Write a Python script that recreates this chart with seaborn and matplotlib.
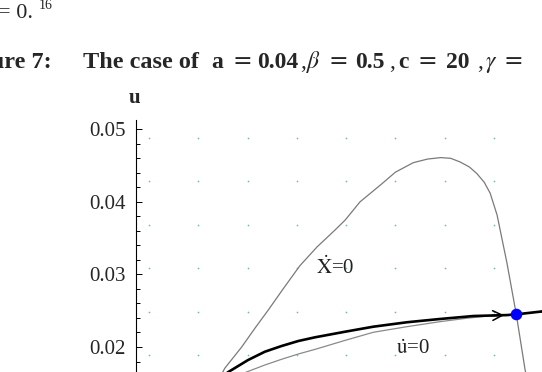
import numpy as np
import pandas as pd
import matplotlib
matplotlib.use("Agg")
import matplotlib.pyplot as plt
import seaborn as sns

# --- data (x in arbitrary X units, u values) ---
xdot_x = [2.45, 2.54, 2.88, 3.15, 3.42, 3.72, 4.06, 4.41, 4.77, 4.98, 5.28, 5.69,
          6.00, 6.36, 6.65, 6.92, 7.12, 7.31, 7.50, 7.65, 7.80, 7.92, 8.06, 8.26,
          8.45, 8.63, 8.68]
xdot_u = [0.0160, 0.0171, 0.0200, 0.0226, 0.0251, 0.0280, 0.0312, 0.0338, 0.0361,
          0.0375, 0.0400, 0.0423, 0.0441, 0.0454, 0.0459, 0.0461, 0.0460, 0.0455,
          0.0448, 0.0439, 0.0427, 0.0412, 0.0382, 0.0316, 0.0245, 0.0168, 0.0155]

udot_x = [2.80, 2.98, 3.35, 3.69, 4.03, 4.37, 4.97, 5.55, 6.23, 6.90, 7.44, 7.92,
          8.45, 8.97, 9.60]
udot_u = [0.0160, 0.01656, 0.01752, 0.01831, 0.01904, 0.01968, 0.0209, 0.02203,
          0.02280, 0.02349, 0.02396, 0.02430, 0.0245, 0.0249, 0.0253]

saddle_x = [2.50, 2.61, 3.01, 3.35, 3.69, 4.03, 4.37, 4.98, 5.55, 6.23, 6.90, 7.58,
            8.26, 8.45, 8.97, 9.60]
saddle_u = [0.0160, 0.01656, 0.01821, 0.01935, 0.02014, 0.02083, 0.02134, 0.02211,
            0.02280, 0.02341, 0.02386, 0.02427, 0.02440, 0.02450, 0.02490, 0.0253]

eq_x = [8.45]
eq_u = [0.0245]

yticks = [0.02, 0.03, 0.04, 0.05]
ytick_labels = ["0.02", "0.03", "0.04", "0.05"]

sns.set_theme(style="white")
plt.rcParams["font.family"] = ["Liberation Serif", "DejaVu Serif"]
plt.rcParams["mathtext.fontset"] = "stix"

W, H = 542, 372
fig = plt.figure(figsize=(W / 100, H / 100), dpi=100)
fig.patch.set_facecolor("white")

# axes extend beyond the cropped picture
ax_left, ax_right, ax_top, ax_bottom = 135.7, 600, 120, 450
ax = fig.add_axes([ax_left / W, 1 - ax_bottom / H, (ax_right - ax_left) / W,
                   (ax_bottom - ax_top) / H])
ax.set_facecolor("white")
x0 = (ax_left - 99.7) / 49.3
x1 = (ax_right - 99.7) / 49.3
ax.set_xlim(x0, x1)
ax.set_ylim(0.05 - (ax_bottom - 129.3) / 7257, 0.05 + (129.3 - ax_top) / 7257)

# dotted lattice grid
gx = np.arange(1, 10)
gy = 0.0488 - 0.00598 * np.arange(0, 8)
GX, GY = np.meshgrid(gx, gy)
ax.scatter(GX.ravel(), GY.ravel(), s=1.5, color="#6fb9b9", linewidths=0, zorder=1)

df1 = pd.DataFrame({"X": xdot_x, "u": xdot_u})
df2 = pd.DataFrame({"X": udot_x, "u": udot_u})
df3 = pd.DataFrame({"X": saddle_x, "u": saddle_u})
sns.lineplot(data=df1, x="X", y="u", sort=False, estimator=None, ax=ax,
             color="#7a7a7a", lw=0.9, zorder=2)
sns.lineplot(data=df2, x="X", y="u", sort=False, estimator=None, ax=ax,
             color="#8a8a8a", lw=0.9, zorder=2)
sns.lineplot(data=df3, x="X", y="u", sort=False, estimator=None, ax=ax,
             color="black", lw=1.9, zorder=3)
sns.scatterplot(x=eq_x, y=eq_u, ax=ax, color="#0000ff", s=70, linewidth=0, zorder=5)

# direction arrows on the saddle path
arrow_style = "->,head_length=0.5,head_width=0.25"
ax.annotate("", xy=(8.26, 0.02440), xytext=(7.9, 0.02432),
            arrowprops=dict(arrowstyle=arrow_style, color="black", lw=1.1,
                            mutation_scale=14), zorder=4)
ax.annotate("", xy=(8.87, 0.02483), xytext=(9.4, 0.0252),
            arrowprops=dict(arrowstyle=arrow_style, color="black", lw=1.1,
                            mutation_scale=14), zorder=4)

ax.text(4.77, 0.0309, r"$\dot{\mathrm{X}}$=0", fontsize=15, ha="center",
        va="center", color="#222222")
ax.text(6.36, 0.0197, r"$\dot{\mathrm{u}}$=0", fontsize=15, ha="center",
        va="center", color="#222222")

for s in ["top", "right", "bottom"]:
    ax.spines[s].set_visible(False)
ax.spines["left"].set_color("black")
ax.spines["left"].set_linewidth(0.8)
ax.set_xticks([])
ax.set_yticks(yticks)
ax.set_yticklabels(ytick_labels)
ax.yaxis.set_minor_locator(matplotlib.ticker.MultipleLocator(0.002))
ax.tick_params(axis="y", which="major", direction="in", length=4.5, width=0.7,
               color="black", labelsize=15, pad=7, left=True)
ax.tick_params(axis="y", which="minor", direction="in", length=3, width=0.7,
               color="black", left=True)
ax.set_xlabel("")
ax.set_ylabel("")

# texts outside the plot
def ftext(px, py, s, **kw):
    fig.text(px / W, 1 - py / H, s, va="baseline", **kw)

ftext(135, 103, "u", fontsize=15, fontweight="bold", ha="center")
ftext(-2, 18, "= 0.", fontsize=16, ha="left")
ftext(39, 9, "16", fontsize=10, ha="left")
ftext(52, 68, "Figure 7:", fontsize=17.5, fontweight="bold", ha="right")
ftext(83, 68, "The case of", fontsize=17.5, fontweight="bold", ha="left")
pieces = [(217.5, "a", "bold"), (242, "=", "eq"), (278, "0.04", "bold"),
          (303, ",", "normal"), (313.5, r"$\beta$", "normal"), (338, "=", "eq"),
          (370, "0.5", "bold"), (392, ",", "normal"), (403, "c", "bold"),
          (427.5, "=", "eq"), (458, "20", "bold"), (480, ",", "normal"),
          (491, r"$\gamma$", "normal"), (513, "=", "eq")]
for px, s, wt in pieces:
    if wt == "eq":
        ftext(px, 68, s, fontsize=17, family=["DejaVu Serif"], ha="center")
    else:
        ftext(px, 68, s, fontsize=17, fontweight=wt, ha="center")

fig.savefig("out.png", dpi=100, facecolor="white")
